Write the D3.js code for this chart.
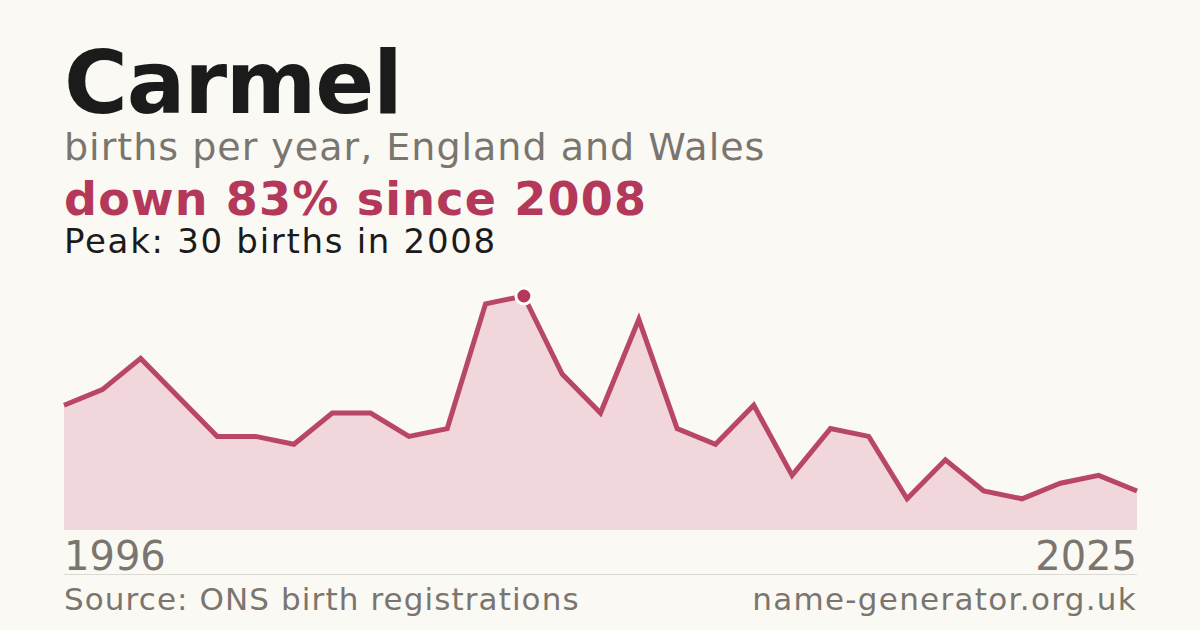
<!DOCTYPE html>
<html><head><meta charset="utf-8">
<script src="https://cdn.jsdelivr.net/npm/d3@7/dist/d3.min.js"></script>
<style>
html,body{margin:0;padding:0;background:#faf9f4;}
svg{display:block;font-family:"DejaVu Sans",sans-serif;}
</style></head>
<body>
<svg id="c" width="1200" height="630"></svg>
<script>
const years = [1996,1997,1998,1999,2000,2001,2002,2003,2004,2005,2006,2007,2008,2010,2011,2012,2013,2014,2015,2016,2017,2018,2019,2020,2021,2022,2023,2024,2025];
const births = [16,18,22,17,12,12,11,15,15,12,13,29,30,20,15,27,13,11,16,7,13,12,4,9,5,4,6,7,5];
const axisLabels = ["1996","2025"];
const title = "Carmel";
const subtitle = "births per year, England and Wales";
const headline = "down 83% since 2008";
const peakText = "Peak: 30 births in 2008";
const sourceText = "Source: ONS birth registrations";
const siteText = "name-generator.org.uk";

const svg = d3.select("#c");
svg.append("rect").attr("width",1200).attr("height",630).attr("fill","#faf9f4");

const red = "#b3385a";
const x = d3.scaleLinear().domain([0, births.length-1]).range([64,1137]);
const y = d3.scaleLinear().domain([0,30]).range([530,296]);

const area = d3.area().x((d,i)=>x(i)).y0(y(0)).y1(d=>y(d));
const line = d3.line().x((d,i)=>x(i)).y(d=>y(d));

svg.append("path").datum(births).attr("d",area).attr("fill","#f1d6db");
svg.append("path").datum(births).attr("d",line).attr("fill","none")
  .attr("stroke",red).attr("stroke-width",5).attr("stroke-linejoin","miter").attr("opacity",0.92);

const pi = births.indexOf(d3.max(births));
svg.append("circle").attr("cx",x(pi)).attr("cy",y(births[pi])).attr("r",8)
  .attr("fill",red).attr("stroke","#ffffff").attr("stroke-width",3);

function txt(s, xx, yy, size, opts) {
  const t = svg.append("text").attr("x",xx).attr("y",yy).text(s)
    .attr("font-size",size).attr("fill",opts.fill);
  if (opts.bold) t.attr("font-weight","bold");
  if (opts.ls) t.attr("letter-spacing",opts.ls);
  if (opts.end) t.attr("text-anchor","end");
  return t;
}
txt(title, 64, 113, 87, {fill:"#1b1b1b", bold:true, ls:-1.2});
txt(subtitle, 64, 160, 38, {fill:"#7a756f", ls:1.0});
txt(headline, 64, 215, 46, {fill:red, bold:true, ls:1.2});
txt(peakText, 64, 253, 34, {fill:"#1b1b1b", ls:1.7});

txt(axisLabels[0], 64, 570, 40, {fill:"#7a756f"});
txt(axisLabels[1], 1137, 570, 40, {fill:"#7a756f", end:true});
svg.append("line").attr("x1",64).attr("x2",1137).attr("y1",574.5).attr("y2",574.5)
  .attr("stroke","#dcdad5").attr("stroke-width",1);
txt(sourceText, 64, 610, 31, {fill:"#7a756f", ls:1.1});
txt(siteText, 1137, 610, 31, {fill:"#7a756f", ls:1.3, end:true});
</script>
</body></html>
